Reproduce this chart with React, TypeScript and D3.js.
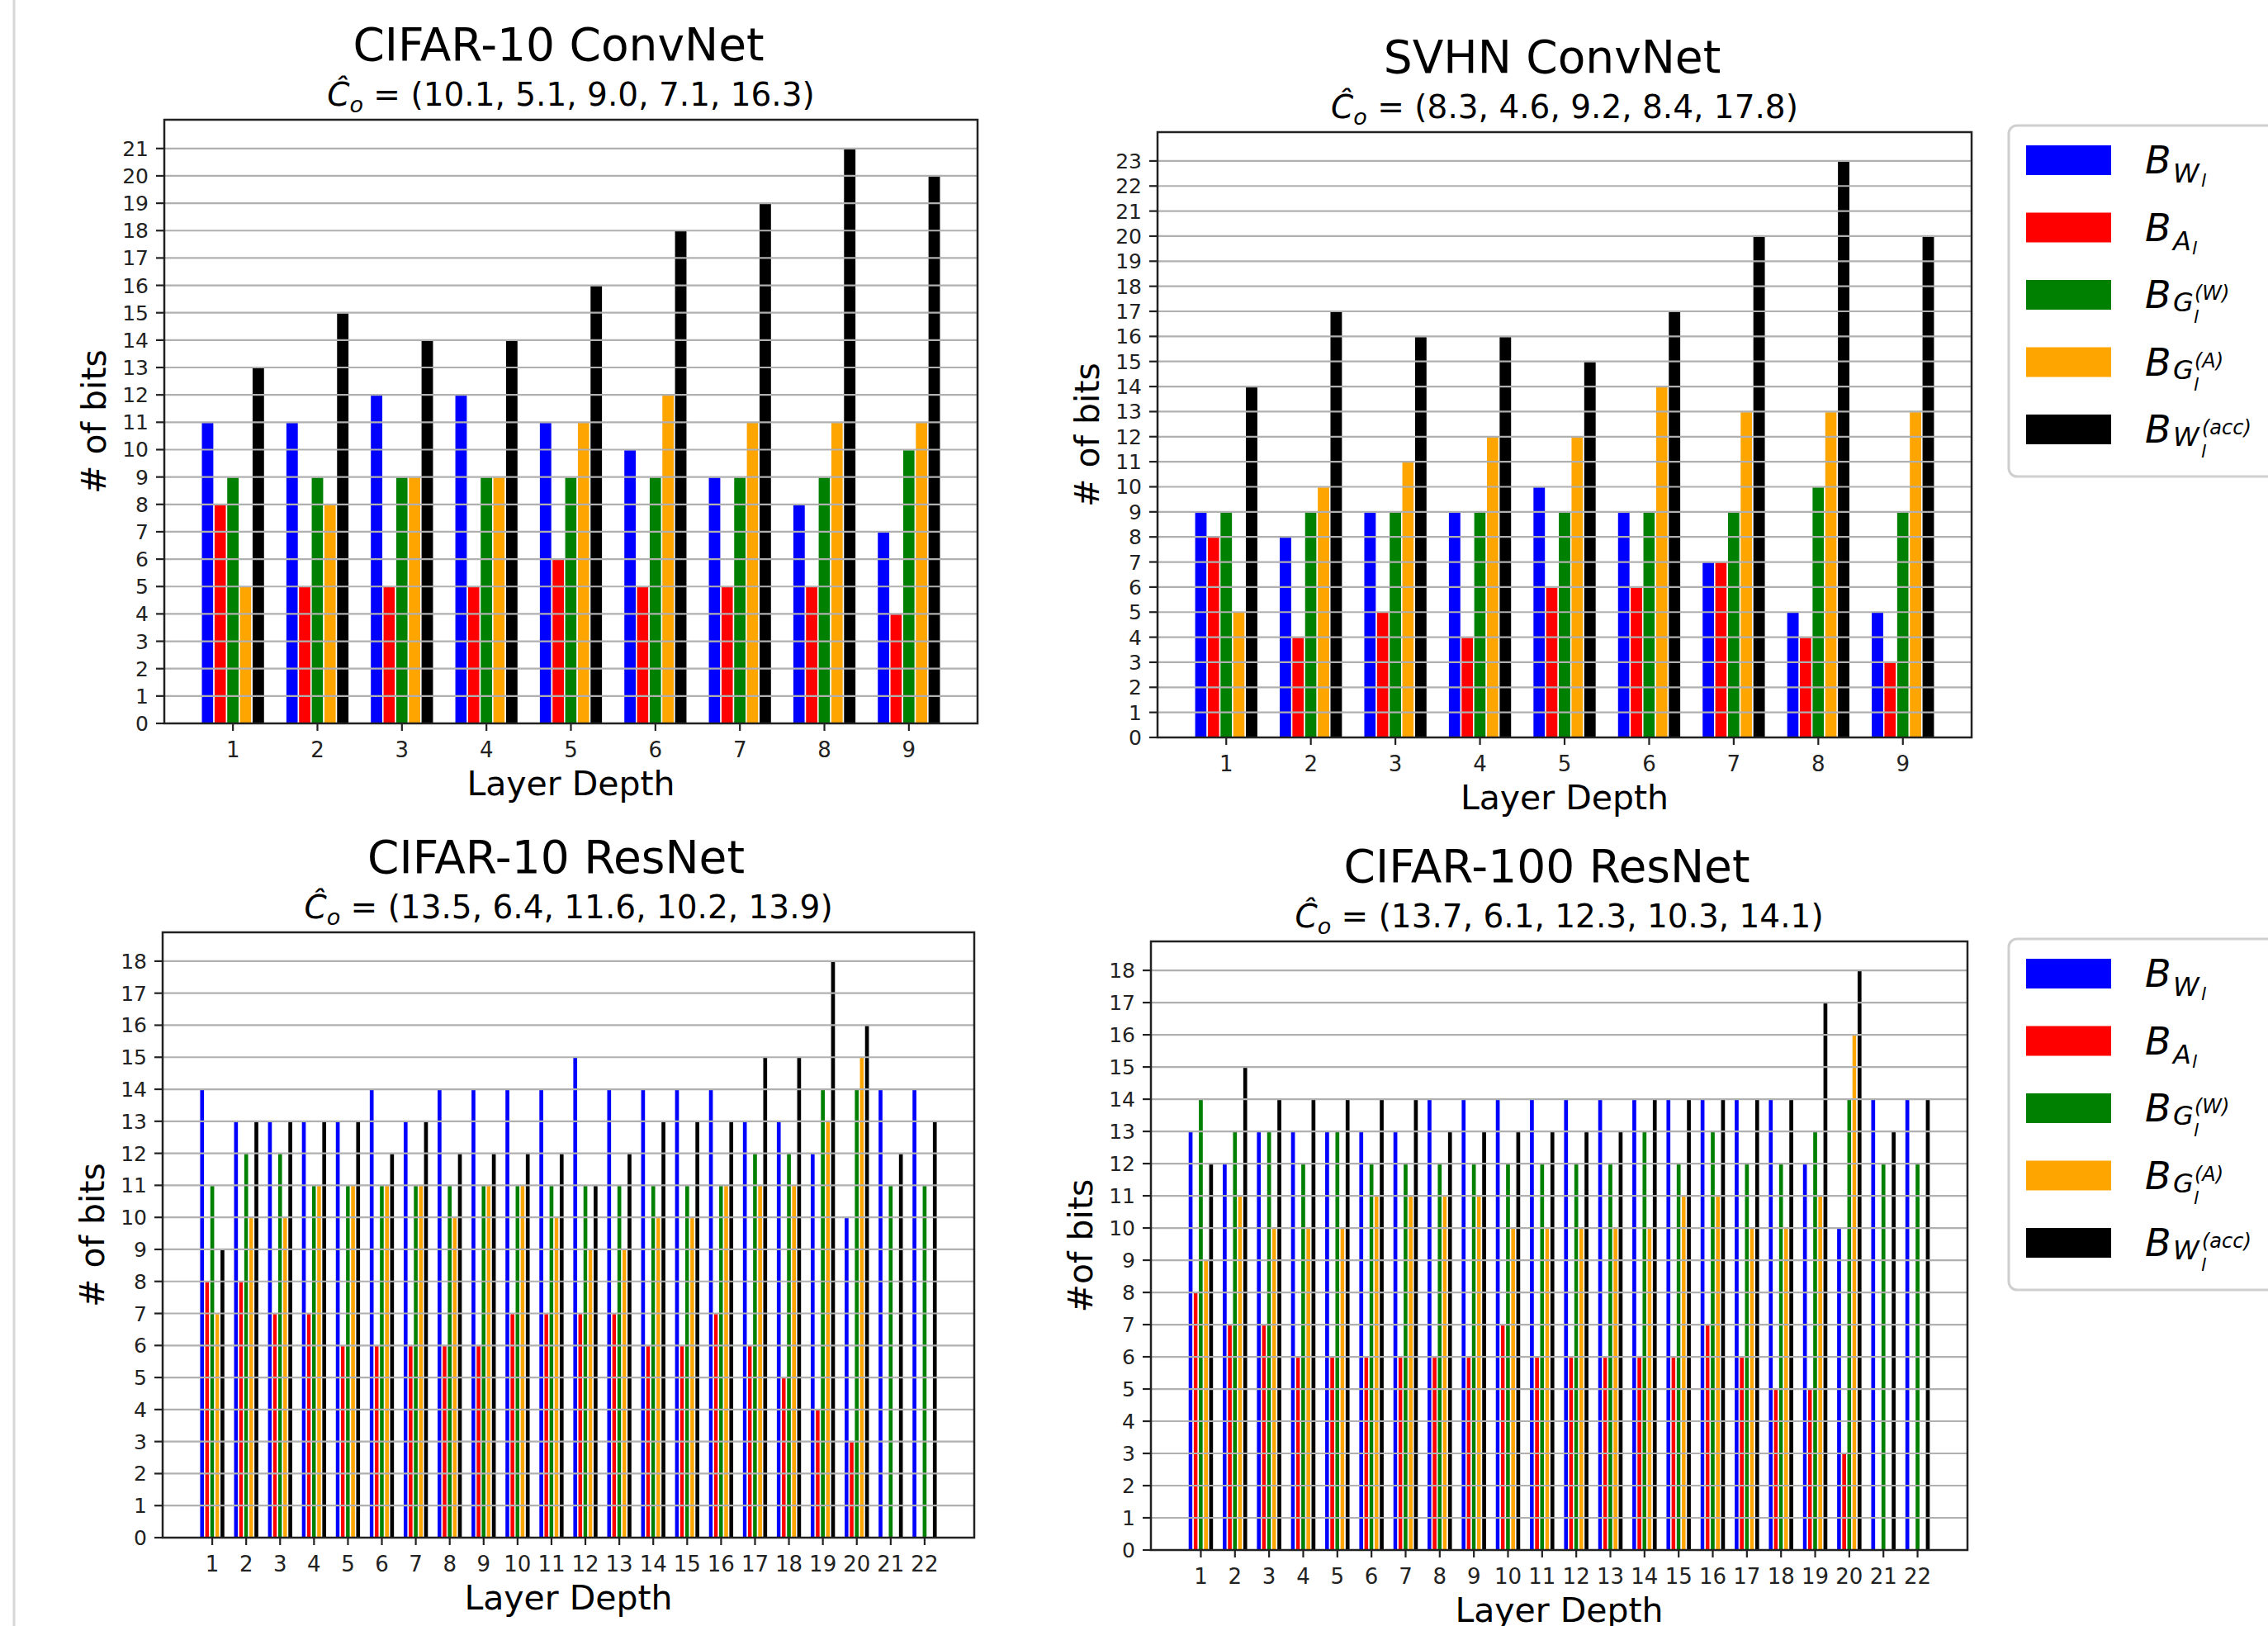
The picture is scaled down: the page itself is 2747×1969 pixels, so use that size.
import React from "react";
import * as d3 from "d3";

// layer indices (x categories)
const convLayers = [1, 2, 3, 4, 5, 6, 7, 8, 9];
const resLayers = [1, 2, 3, 4, 5, 6, 7, 8, 9, 10, 11, 12, 13, 14, 15, 16, 17, 18, 19, 20, 21, 22];

// CIFAR-10 ConvNet
const c10ConvBW = [11, 11, 12, 12, 11, 10, 9, 8, 7];
const c10ConvBA = [8, 5, 5, 5, 6, 5, 5, 5, 4];
const c10ConvBGW = [9, 9, 9, 9, 9, 9, 9, 9, 10];
const c10ConvBGA = [5, 8, 9, 9, 11, 12, 11, 11, 11];
const c10ConvAcc = [13, 15, 14, 14, 16, 18, 19, 21, 20];

// SVHN ConvNet
const svhnBW = [9, 8, 9, 9, 10, 9, 7, 5, 5];
const svhnBA = [8, 4, 5, 4, 6, 6, 7, 4, 3];
const svhnBGW = [9, 9, 9, 9, 9, 9, 9, 10, 9];
const svhnBGA = [5, 10, 11, 12, 12, 14, 13, 13, 13];
const svhnAcc = [14, 17, 16, 16, 15, 17, 20, 23, 20];

// CIFAR-10 ResNet
const c10ResBW = [14, 13, 13, 13, 13, 14, 13, 14, 14, 14, 14, 15, 14, 14, 14, 14, 13, 13, 12, 10, 14, 14];
const c10ResBA = [8, 8, 7, 7, 6, 6, 6, 6, 6, 7, 7, 7, 7, 6, 6, 7, 6, 5, 4, 3, 0, 0];
const c10ResBGW = [11, 12, 12, 11, 11, 11, 11, 11, 11, 11, 11, 11, 11, 11, 11, 11, 12, 12, 14, 14, 11, 11];
const c10ResBGA = [7, 10, 10, 11, 11, 11, 11, 10, 11, 11, 10, 9, 9, 10, 10, 11, 11, 11, 13, 15, 0, 0];
const c10ResAcc = [9, 13, 13, 13, 13, 12, 13, 12, 12, 12, 12, 11, 12, 13, 13, 13, 15, 15, 18, 16, 12, 13];

// CIFAR-100 ResNet
const c100ResBW = [13, 12, 13, 13, 13, 13, 13, 14, 14, 14, 14, 14, 14, 14, 14, 14, 14, 14, 12, 10, 14, 14];
const c100ResBA = [8, 7, 7, 6, 6, 6, 6, 6, 6, 7, 6, 6, 6, 6, 6, 7, 6, 5, 5, 3, 0, 0];
const c100ResBGW = [14, 13, 13, 12, 13, 12, 12, 12, 12, 12, 12, 12, 12, 13, 12, 13, 12, 12, 13, 14, 12, 12];
const c100ResBGA = [9, 11, 10, 10, 10, 11, 11, 11, 11, 10, 10, 10, 10, 10, 11, 11, 10, 10, 11, 16, 0, 0];
const c100ResAcc = [12, 15, 14, 14, 14, 14, 14, 13, 13, 13, 13, 13, 13, 14, 14, 14, 14, 14, 17, 18, 13, 14];

// C_o values in the subtitles
const c10ConvCo = ["10.1", "5.1", "9.0", "7.1", "16.3"];
const svhnCo = ["8.3", "4.6", "9.2", "8.4", "17.8"];
const c10ResCo = ["13.5", "6.4", "11.6", "10.2", "13.9"];
const c100ResCo = ["13.7", "6.1", "12.3", "10.3", "14.1"];

// legend entries: main subscript letter, superscript
const legendMain = ["W", "A", "G", "G", "W"];
const legendSup = ["", "", "(W)", "(A)", "(acc)"];

const colors = ["#0000ff", "#ff0000", "#008000", "#ffa500", "#000000"];
const barW = 0.15;
const FONT = "DejaVu Sans, sans-serif";

const Panel = ({ layers, series, title, co, ylabel, left, top, width, height }) => {
  const n = layers.length;
  const lo = layers[0] - 2.5 * barW;
  const hi = layers[n - 1] + 2.5 * barW;
  const pad = (hi - lo) * 0.05;
  const x = d3.scaleLinear().domain([lo - pad, hi + pad]).range([left, left + width]);
  const maxV = d3.max(series.flat());
  const y = d3.scaleLinear().domain([0, maxV * 1.05]).range([top + height, top]);
  const yTicks = d3.range(0, maxV + 1);
  const bottom = top + height;
  const cx = left + width / 2;

  return (
    <g fontFamily={FONT}>
      <text x={cx - 15} y={top - 72} textAnchor="middle" fontSize={55} fill="#000">
        {title}
      </text>
      <text x={cx} y={top - 17} textAnchor="middle" fontSize={39} fill="#000">
        <tspan fontStyle="italic">Ĉ</tspan>
        <tspan fontStyle="italic" fontSize={27} dy={8}>o</tspan>
        <tspan dy={-8}>{" = (" + co.join(", ") + ")"}</tspan>
      </text>

      {series.map((vals, si) =>
        vals.map((v, i) =>
          v > 0 ? (
            <rect
              key={`b${si}-${i}`}
              x={x(layers[i] + (si - 2) * barW - barW / 2)}
              y={y(v)}
              width={x(barW) - x(0)}
              height={y(0) - y(v)}
              fill={colors[si]}
              stroke="#fff"
              strokeWidth={1.5}
            />
          ) : null
        )
      )}

      {yTicks.slice(1).map((t) => (
        <line key={`g${t}`} x1={left} x2={left + width} y1={y(t)} y2={y(t)} stroke="#b0b0b0" strokeWidth={2.2} />
      ))}

      <rect x={left} y={top} width={width} height={height} fill="none" stroke="#222" strokeWidth={2.5} />

      {yTicks.map((t) => (
        <g key={`yt${t}`}>
          <line x1={left - 10} x2={left} y1={y(t)} y2={y(t)} stroke="#222" strokeWidth={2.2} />
          <text x={left - 19} y={y(t)} dy="0.36em" textAnchor="end" fontSize={25} fill="#222">
            {t}
          </text>
        </g>
      ))}
      {layers.map((l) => (
        <g key={`xt${l}`}>
          <line x1={x(l)} x2={x(l)} y1={bottom} y2={bottom + 9} stroke="#222" strokeWidth={2.2} />
          <text x={x(l)} y={bottom + 41} textAnchor="middle" fontSize={26} fill="#222">
            {l}
          </text>
        </g>
      ))}

      <text x={cx} y={bottom + 87} textAnchor="middle" fontSize={41} fill="#000">
        Layer Depth
      </text>
      <text
        transform={`translate(${left - 71},${top + height / 2}) rotate(-90)`}
        textAnchor="middle"
        fontSize={41}
        fill="#000"
      >
        {ylabel}
      </text>
    </g>
  );
};

const Legend = ({ left, top }) => {
  const rowGap = 81.5;
  return (
    <g fontFamily={FONT}>
      <rect x={left} y={top} width={400} height={425} rx={10} fill="#fff" stroke="#cfcfcf" strokeWidth={3} />
      {colors.map((c, i) => {
        const py = top + 24 + i * rowGap;
        const base = py + 18 + 16;
        const tx = left + 165;
        const main = legendMain[i];
        const sup = legendSup[i];
        const mainW = main === "W" ? 34 : main === "A" ? 23 : 25;
        return (
          <g key={`lg${i}`}>
            <rect x={left + 21} y={py} width={103} height={36} fill={c} />
            <text x={tx} y={base} fontSize={46} fontStyle="italic" fill="#000">B</text>
            <text x={tx + 34} y={base + (sup ? 4 : 11)} fontSize={32} fontStyle="italic" fill="#000">
              {main}
            </text>
            <text x={tx + 34 + mainW} y={base + (sup ? 18 : 16)} fontSize={22} fontStyle="italic" fill="#000">
              l
            </text>
            {sup && (
              <text x={tx + 34 + mainW + 1} y={base - 10} fontSize={24} fontStyle="italic" fill="#000">
                {sup}
              </text>
            )}
          </g>
        );
      })}
    </g>
  );
};

export default function App() {
  return (
    <svg
      width={2747}
      height={1969}
      style={{ position: "absolute", left: 0, top: 0, background: "#fff" }}
    >
      <rect width={2747} height={1969} fill="#fff" />
      <line x1={17} x2={17} y1={0} y2={1969} stroke="#d6d6d6" strokeWidth={3} />
      <Panel
        layers={convLayers}
        series={[c10ConvBW, c10ConvBA, c10ConvBGW, c10ConvBGA, c10ConvAcc]}
        title="CIFAR-10 ConvNet"
        co={c10ConvCo}
        ylabel="# of bits"
        left={199}
        top={145}
        width={985}
        height={731}
      />
      <Panel
        layers={convLayers}
        series={[svhnBW, svhnBA, svhnBGW, svhnBGA, svhnAcc]}
        title="SVHN ConvNet"
        co={svhnCo}
        ylabel="# of bits"
        left={1402}
        top={160}
        width={986}
        height={733}
      />
      <Panel
        layers={resLayers}
        series={[c10ResBW, c10ResBA, c10ResBGW, c10ResBGA, c10ResAcc]}
        title="CIFAR-10 ResNet"
        co={c10ResCo}
        ylabel="# of bits"
        left={197}
        top={1129}
        width={983}
        height={733}
      />
      <Panel
        layers={resLayers}
        series={[c100ResBW, c100ResBA, c100ResBGW, c100ResBGA, c100ResAcc]}
        title="CIFAR-100 ResNet"
        co={c100ResCo}
        ylabel="#of bits"
        left={1394}
        top={1140}
        width={989}
        height={737}
      />
      <Legend left={2433} top={152} />
      <Legend left={2433} top={1137} />
    </svg>
  );
}
